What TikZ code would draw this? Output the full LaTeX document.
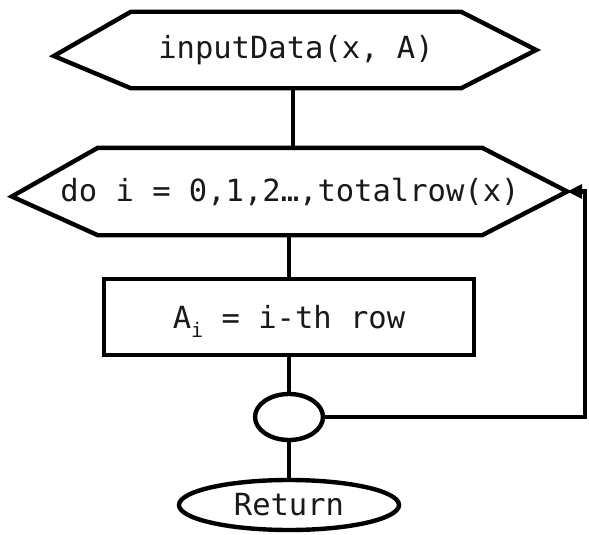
\documentclass[tikz,border=0pt]{standalone}
\usepackage{fontspec}
\setmonofont{DejaVu Sans Mono}
\usetikzlibrary{shapes.geometric,arrows.meta,calc}
\tikzset{
  lbl/.style={font=\ttfamily\fontsize{30.5}{34}\selectfont, inner sep=0pt, text=black!90},
  body/.style={lbl, draw=none},
  edge/.style={line width=4.4pt, draw=black},
  blk/.style={line width=4.4pt, draw=black, line join=miter},
}
\begin{document}
\begin{tikzpicture}[x=1pt,y=-1pt]
\useasboundingbox (0,0) rectangle (589,535);

% input hexagon
\node[body, minimum width=330pt, minimum height=76pt] (h1) at (296,50) {\makebox[0pt]{inputData(x, A)}};
\draw[blk] (h1.north west) -- (h1.north east) -- ($(h1.east)+(75,0)$)
  -- (h1.south east) -- (h1.south west) -- ($(h1.west)+(-77,6)$) -- cycle;

% loop hexagon
\node[body, minimum width=384pt, minimum height=87pt] (h2) at (290,191.5) {\makebox[0pt]{do i = 0,1,2…,totalrow(x)}};
\coordinate (h2r) at ($(h2.east)+(85,0)$);
\draw[blk] (h2.north west) -- (h2.north east) -- (h2r)
  -- (h2.south east) -- (h2.south west) -- ($(h2.west)+(-86,5)$) -- cycle;

% process box
\node[lbl, draw, line width=4.4pt, minimum width=370pt, minimum height=76pt] (r) at (289,317)
  {A\smash{\raisebox{-0.3em}{\fontsize{20}{20}\selectfont i}} = i-th row};

% connector ellipse
\node[ellipse, draw, line width=4.4pt, inner sep=0pt, minimum width=68pt, minimum height=46pt] (c) at (289,417) {};

% return terminal
\node[lbl, ellipse, draw, line width=4.4pt, minimum width=220pt, minimum height=50pt] (ret) at (289,505) {Return};

% connectors
\draw[edge] (h1.south -| 293,0) -- (h2.north -| 293,0);
\draw[edge] (h2.south -| r.north) -- (r.north);
\draw[edge] (r.south) -- (c.north);
\draw[edge] (c.south) -- (ret.north);
\coordinate (loopc) at (585,417);
\draw[edge, -{Triangle[length=15pt,width=14pt]}] (c.east) -- (loopc) |- (h2r);
\end{tikzpicture}
\end{document}
